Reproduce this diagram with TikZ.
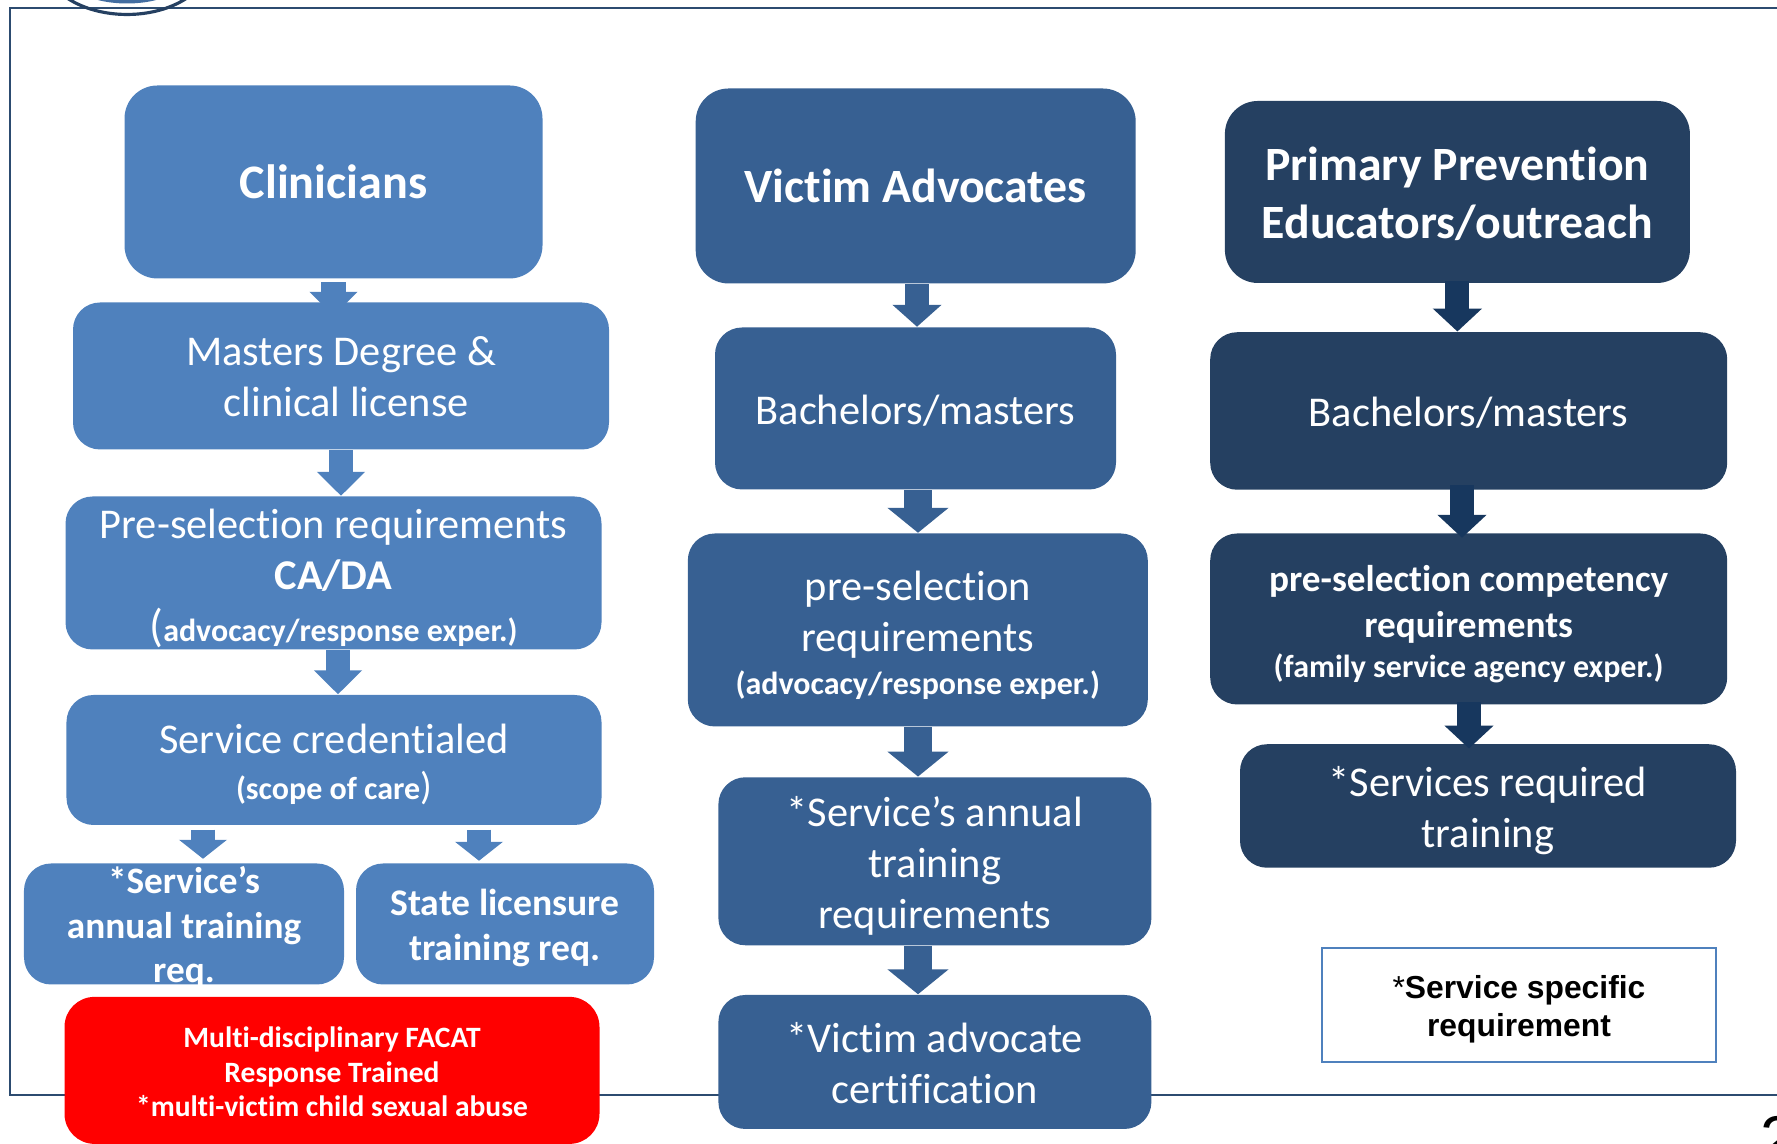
\documentclass[tikz,border=0pt]{standalone}
\usepackage{xcolor}
\usepackage{fontspec}
\setmainfont[Ligatures=NoCommon]{Carlito}
\newfontfamily\legendfont{Liberation Sans}
\usetikzlibrary{arrows.meta,backgrounds}

\definecolor{clinblue}{HTML}{4F81BD}
\definecolor{advblue}{HTML}{376092}
\definecolor{edublue}{HTML}{254061}
\definecolor{arrowdark}{HTML}{17375E}
\definecolor{framecol}{HTML}{2C4B70}

% texto de varias lineas, centrado y sin cambiar el tamano de la caja
\newcommand{\boxtext}[2]{\makebox[0pt][c]{\smash{\raisebox{#1}{\parbox[c]{6cm}{\centering #2}}}}}

\tikzset{
    stepbox/.style={rounded corners=0.27cm, text=white, inner sep=0pt,
        font=\fontsize{12.07}{14.5}\selectfont},
    clinbox/.style={stepbox, fill=clinblue},
    advbox/.style={stepbox, fill=advblue},
    edubox/.style={stepbox, fill=edublue},
    clinflow/.style={draw=clinblue, line width=0.245cm, -{Triangle[width=0.47cm,length=0.24cm]}},
    advflow/.style={draw=advblue, line width=0.275cm, -{Triangle[width=0.6cm,length=0.25cm]}},
    eduflow/.style={draw=arrowdark, line width=0.24cm, -{Triangle[width=0.48cm,length=0.23cm]}}
}

\begin{document}
\begin{tikzpicture}
    \useasboundingbox (0,0) rectangle (17.77,11.44);

    % Paso 1: Columna de clinicos
    \node[clinbox, minimum width=4.18cm, minimum height=1.93cm, rounded corners=0.33cm,
        font=\fontsize{13.7}{16}\bfseries\selectfont] (clin) at (3.335,9.62) {Clinicians};
    \node[clinbox, minimum width=5.36cm, minimum height=1.47cm] (masters) at (3.41,7.68)
        {\boxtext{-3.3pt}{Masters Degree \&\\\hspace*{3pt}clinical license}};
    \node[clinbox, minimum width=5.36cm, minimum height=1.53cm] (presel) at (3.335,5.71)
        {\boxtext{-4.6pt}{Pre-selection requirements\\\textbf{CA/DA}\\[0.4pt]
        {\fontsize{13}{14.5}\selectfont (}{\fontsize{9.1}{14.5}\bfseries\selectfont advocacy/response exper.)}}};
    \node[clinbox, minimum width=5.35cm, minimum height=1.30cm] (cred) at (3.34,3.84)
        {\boxtext{-4.3pt}{Service credentialed\\[-1.6pt]
        {\fontsize{9.1}{14.5}\bfseries\selectfont (scope of care}{\fontsize{11}{14.5}\selectfont )}}};
    \node[clinbox, minimum width=3.20cm, minimum height=1.21cm,
        font=\fontsize{10.6}{12.7}\bfseries\selectfont] (annual) at (1.84,2.20)
        {\boxtext{-3.8pt}{*Service’s\\annual training\\req.}};
    \node[clinbox, minimum width=2.98cm, minimum height=1.21cm,
        font=\fontsize{10.7}{12.9}\bfseries\selectfont] (state) at (5.05,2.20)
        {\boxtext{-3.8pt}{State licensure\\training req.}};
    \node[stepbox, fill=red, minimum width=5.35cm, minimum height=1.47cm, rounded corners=0.3cm,
        font=\fontsize{8.4}{9.8}\bfseries\selectfont] (facat) at (3.32,0.736)
        {\boxtext{-2.5pt}{Multi-disciplinary FACAT\\Response Trained\\{*}multi-victim child sexual abuse}};

    % Paso 2: Columna de defensores
    \node[advbox, minimum width=4.40cm, minimum height=1.95cm, rounded corners=0.33cm,
        font=\fontsize{13.6}{16}\bfseries\selectfont] (victim) at (9.157,9.58) {Victim Advocates};
    \node[advbox, minimum width=4.01cm, minimum height=1.62cm] (bach) at (9.155,7.355)
        {\boxtext{-3.5pt}{Bachelors/masters}};
    \node[advbox, minimum width=4.60cm, minimum height=1.93cm] (pre) at (9.178,5.14)
        {\boxtext{-4.5pt}{pre-selection\\requirements\\[-2.5pt]
        {\fontsize{9.1}{12}\bfseries\selectfont (advocacy/response exper.)}}};
    \node[advbox, minimum width=4.33cm, minimum height=1.68cm] (train) at (9.349,2.827)
        {\boxtext{-4.3pt}{{*}Service’s annual\\training\\requirements}};
    \node[advbox, minimum width=4.33cm, minimum height=1.34cm] (cert) at (9.349,0.82)
        {\boxtext{-3.4pt}{{*}Victim advocate\\certification}};

    % Paso 3: Columna de educadores
    \node[edubox, minimum width=4.65cm, minimum height=1.82cm, rounded corners=0.33cm,
        font=\fontsize{13.6}{16.4}\bfseries\selectfont] (prim) at (14.574,9.52)
        {\boxtext{-4.1pt}{Primary Prevention\\Educators/outreach}};
    \node[edubox, minimum width=5.17cm, minimum height=1.575cm] (bachb) at (14.687,7.33)
        {\boxtext{-3.5pt}{Bachelors/masters}};
    \node[edubox, minimum width=5.17cm, minimum height=1.71cm,
        font=\fontsize{10.6}{12.9}\bfseries\selectfont] (preb) at (14.687,5.25)
        {\boxtext{-4.3pt}{pre-selection competency\\requirements\\[-1.3pt]
        {\fontsize{9.1}{12}\selectfont (family service agency exper.)}}};
    \node[edubox, minimum width=4.96cm, minimum height=1.235cm] (reqd) at (14.88,3.38)
        {\boxtext{-4.3pt}{{*}Services required\\training}};

    % Paso 4: Leyenda y numero de pagina
    \node[draw=clinblue, line width=0.45pt, fill=white, inner sep=0pt,
        minimum width=3.94cm, minimum height=1.145cm,
        font=\legendfont\fontsize{9.05}{11}\selectfont] (legend) at (15.19,1.39)
        {\boxtext{-3.5pt}{{*}\textbf{Service specific}\\\textbf{requirement}}};
    \node[font=\legendfont\fontsize{18}{20}\selectfont, anchor=base west, inner sep=0pt] (page) at (17.6,-0.17) {2};

    % Paso 5: Marco y logo, detras de las cajas
    \begin{scope}[on background layer]
        \draw[framecol, line width=0.7pt] (17.9,11.36) -- (0.10,11.36) -- (0.10,0.49) -- (17.9,0.49);
        \draw[edublue, line width=0.9pt] (0.67,11.46) .. controls (1.0,11.24) and (1.54,11.24) .. (1.87,11.46);
        \draw[clinblue!70!edublue, line width=1pt] (0.97,11.46) .. controls (1.15,11.41) and (1.39,11.41) .. (1.57,11.46);

        % Paso 6: Flechas de las dos primeras columnas
        \coordinate (xa) at (3.38,0);
        \coordinate (xb) at (2.03,0);
        \coordinate (xc) at (4.79,0);
        \coordinate (xd) at (9.17,0);
        \coordinate (xf) at (9.18,0);
        \draw[clinflow, shorten <=0.03cm, shorten >=-0.14cm] (clin.south) -- (clin.south |- masters.north);
        \draw[clinflow] (masters.south) -- (masters.south |- presel.north);
        \draw[clinflow] (xa |- presel.south) -- (xa |- cred.north);
        \draw[clinflow, -{Triangle[width=0.47cm,length=0.19cm]}, shorten <=0.04cm, shorten >=0.04cm] (xb |- cred.south) -- (xb |- annual.north);
        \draw[clinflow, -{Triangle[width=0.47cm,length=0.19cm]}, shorten <=0.04cm, shorten >=0.02cm] (xc |- cred.south) -- (xc |- state.north);
        \draw[advflow, line width=0.24cm, -{Triangle[width=0.48cm,length=0.22cm]}] (xd |- victim.south) -- (xd |- bach.north);
        \draw[advflow] (xf |- bach.south) -- (xf |- pre.north);
        \draw[advflow] (xf |- pre.south) -- (xf |- train.north);
        \draw[advflow] (xf |- train.south) -- (xf |- cert.north);
    \end{scope}

    % Paso 7: Flechas de la tercera columna, encima de las cajas
    \coordinate (xg) at (14.62,0);
    \coordinate (xh) at (14.69,0);
    \draw[eduflow, shorten <=-0.03cm] (prim.south) -- (prim.south |- bachb.north);
    \draw[eduflow, shorten <=-0.05cm, shorten >=-0.05cm] (xg |- bachb.south) -- (xg |- preb.north);
    \draw[eduflow, shorten <=-0.03cm, shorten >=-0.05cm] (xh |- preb.south) -- (xh |- reqd.north);
\end{tikzpicture}
\end{document}
